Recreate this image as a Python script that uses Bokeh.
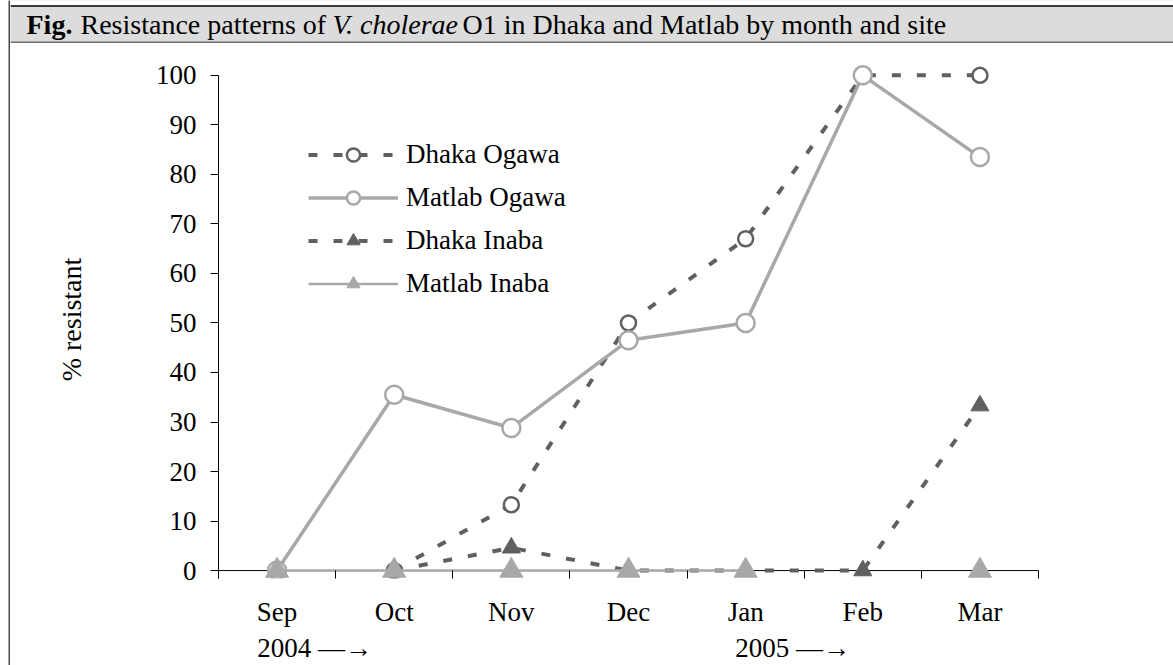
import numpy as np
from bokeh.plotting import figure
from bokeh.models import (Range1d, FixedTicker, Legend, LegendItem, Span, LinearAxis,
                          BoxAnnotation, Spacer)
from bokeh.layouts import row, column
from bokeh.core.properties import value
from bokeh.embed import file_html
from bokeh.resources import INLINE

# ---------------- data ----------------
months = ["Sep", "Oct", "Nov", "Dec", "Jan", "Feb", "Mar"]
dhaka_ogawa = [np.nan, 0, 13.3, 50, 67, 100, 100]
matlab_ogawa = [0, 35.5, 28.8, 46.5, 50, 100, 83.5]
dhaka_inaba = [np.nan, 0, 4.6, 0, 0, 0, 33.3]
matlab_inaba = [0, 0, 0, 0, 0, np.nan, 0]
y_ticks = list(range(0, 101, 10))
year_labels = ["2004 \u2014\u2192", "2005 \u2014\u2192"]
year_pos = [32, 440]          # in 1/100 of a month step (extra range below)
title_parts = [("Fig.", "bold"),
               ("Resistance patterns of", "normal"),
               ("V. cholerae", "italic"),
               ("O1 in Dhaka and Matlab by month and site", "normal")]
title_x = [16, 70, 322, 452]

FONT = "Liberation Serif"
DARK = "#606060"
LIGHT = "#a8a8a8"

xs = list(range(len(months)))


def no_align(fig):
    try:
        fig.frame_align = False
    except Exception:
        pass


# ---------------- left border ----------------
border = figure(width=2, height=665, toolbar_location=None, output_backend="svg",
                x_axis_location=None, y_axis_location=None, min_border=0,
                background_fill_color="#4a4a4a", border_fill_color="#4a4a4a",
                outline_line_color=None)
border.grid.visible = False
no_align(border)

# ---------------- header ----------------
header = figure(width=1163, height=43, toolbar_location=None, output_backend="svg",
                x_range=Range1d(0, 1163), y_range=Range1d(0, 43),
                x_axis_location=None, y_axis_location=None, min_border=0,
                background_fill_color="#dcdcdc", border_fill_color="#dcdcdc",
                outline_line_color=None)
header.grid.visible = False
no_align(header)
header.add_layout(BoxAnnotation(bottom=38.2, fill_color="white", fill_alpha=1,
                                line_alpha=0, level="underlay"))
header.add_layout(Span(location=37.5, dimension="width", line_color="black", line_width=1.5))
header.add_layout(Span(location=1.0, dimension="width", line_color="#6e6e6e", line_width=2))
for (txt, style), tx in zip(title_parts, title_x):
    header.text(x=[tx], y=[19.5], text=[txt], text_font=value(FONT), text_font_style=style,
                text_font_size="28px", text_color="black", text_baseline="middle",
                text_align="left")

# ---------------- main chart ----------------
y_lo, y_hi = -1.6, 103
p = figure(width=1163, height=622, toolbar_location=None, output_backend="svg",
           x_range=Range1d(-0.5, len(months) - 0.5), y_range=Range1d(y_lo, y_hi),
           min_border_left=208, min_border_right=135, min_border_top=17, min_border_bottom=78,
           background_fill_color="white", border_fill_color="white", outline_line_color=None)
p.grid.visible = False
no_align(p)

# x axis: labels at category centres, ticks at category boundaries
p.xaxis.ticker = FixedTicker(ticks=xs, minor_ticks=[i - 0.5 for i in range(len(months) + 1)])
p.xaxis.major_label_overrides = {i: m for i, m in enumerate(months)}
p.xaxis.axis_line_color = None
p.xaxis.major_tick_in = 0
p.xaxis.major_tick_out = 0
p.xaxis.minor_tick_in = 8
p.xaxis.minor_tick_out = 0
p.xaxis.minor_tick_line_color = "black"
p.xaxis.minor_tick_line_width = 1
p.xaxis.major_label_standoff = 18
p.xaxis.major_label_text_font = FONT
p.xaxis.major_label_text_font_size = "27px"
p.xaxis.major_label_text_color = "black"

# year row under the month labels
p.extra_x_ranges = {"yr": Range1d(-50, (len(months) - 0.5) * 100)}
yax = LinearAxis(x_range_name="yr", ticker=FixedTicker(ticks=year_pos),
                 major_label_overrides=dict(zip(year_pos, year_labels)))
yax.axis_line_color = None
yax.major_tick_line_color = None
yax.minor_tick_line_color = None
yax.major_label_standoff = -3
yax.major_label_text_font = FONT
yax.major_label_text_font_size = "27px"
yax.major_label_text_color = "black"
p.add_layout(yax, "below")

# x axis baseline at value 0
p.add_layout(Span(location=0, dimension="width", line_color="black", line_width=1, level="underlay"))

# y axis
p.yaxis.ticker = FixedTicker(ticks=y_ticks)
p.yaxis.bounds = (y_lo, 100)
p.yaxis.axis_line_color = "black"
p.yaxis.major_tick_in = 0
p.yaxis.major_tick_out = 8
p.yaxis.minor_tick_line_color = None
p.yaxis.major_label_standoff = 14
p.yaxis.major_label_text_font = FONT
p.yaxis.major_label_text_font_size = "27px"
p.yaxis.major_label_text_color = "black"
p.yaxis.axis_label = "% resistant"
p.yaxis.axis_label_text_font = FONT
p.yaxis.axis_label_text_font_style = "normal"
p.yaxis.axis_label_text_font_size = "28px"
p.yaxis.axis_label_text_color = "black"
p.yaxis.axis_label_standoff = 66

# series
l1 = p.line(xs, dhaka_ogawa, line_color=DARK, line_width=4, line_dash="9 16")
s1 = p.scatter(xs, dhaka_ogawa, marker="circle", size=15, fill_color="white",
               line_color=DARK, line_width=2.5)
l2 = p.line(xs, matlab_ogawa, line_color=LIGHT, line_width=3.5)
s2 = p.scatter(xs, matlab_ogawa, marker="circle", size=18, fill_color="white",
               line_color=LIGHT, line_width=2.5)
l3 = p.line(xs, dhaka_inaba, line_color=DARK, line_width=4, line_dash="9 16")
s3 = p.scatter(xs, dhaka_inaba, marker="triangle", size=18, fill_color=DARK,
               line_color=DARK, line_width=1)
l4 = p.line(xs, matlab_inaba, line_color=LIGHT, line_width=2.5)
s4 = p.scatter(xs, matlab_inaba, marker="triangle", size=23, fill_color=LIGHT,
               line_color=LIGHT, line_width=1)

legend = Legend(items=[LegendItem(label="Dhaka Ogawa", renderers=[l1, s1]),
                       LegendItem(label="Matlab Ogawa", renderers=[l2, s2]),
                       LegendItem(label="Dhaka Inaba", renderers=[l3, s3]),
                       LegendItem(label="Matlab Inaba", renderers=[l4, s4])],
                location=(90, 278), orientation="vertical",
                glyph_width=90, glyph_height=33, label_height=33, spacing=10,
                label_standoff=8, padding=0, margin=0,
                label_text_font=FONT, label_text_font_size="27px", label_text_color="black",
                background_fill_alpha=0, border_line_color=None)
p.add_layout(legend)

layout = row(Spacer(width=8, height=665), border, column(header, p))
open("out.html", "w").write(file_html(layout, INLINE))
